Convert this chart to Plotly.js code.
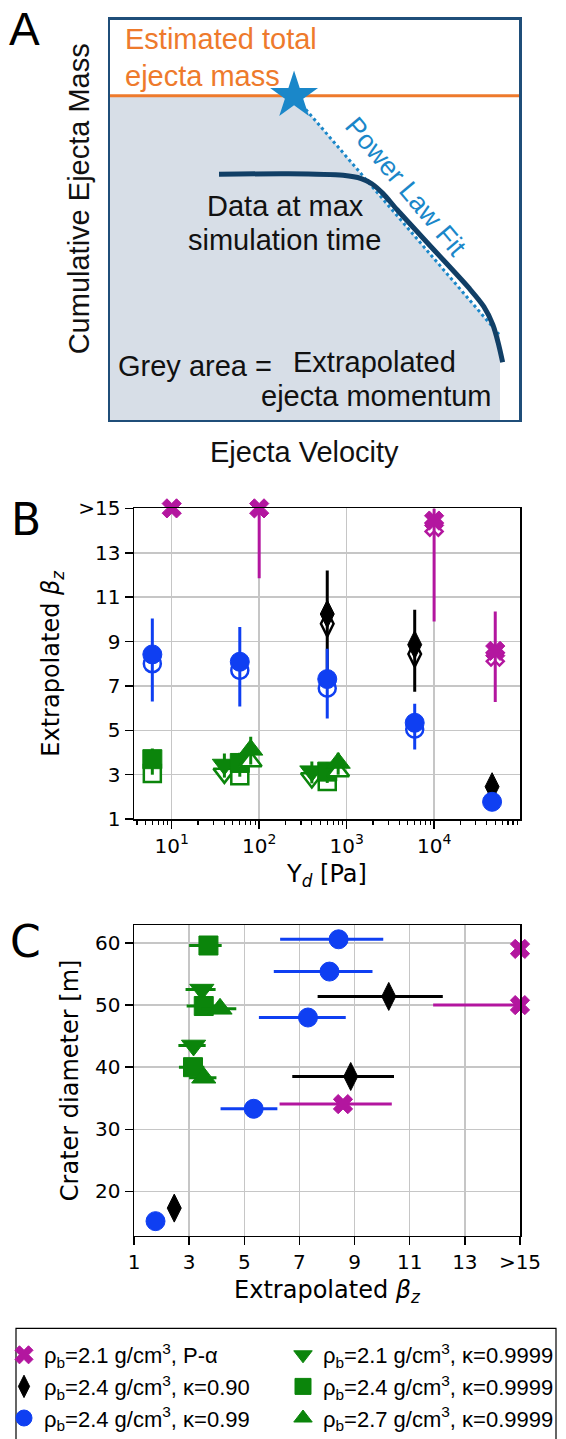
<!DOCTYPE html>
<html><head><meta charset="utf-8">
<script src="https://cdn.plot.ly/plotly-3.0.1.min.js"></script>
<style>html,body{margin:0;padding:0;background:#fff;width:566px;height:1439px;overflow:hidden}
#chart{width:566px;height:1439px;overflow:hidden;position:relative}</style>
</head><body>
<div id="chart"></div>
<script>
// ---------------- Panel A : schematic (arbitrary units 0-100) ----------------
const schemCurveX = [26.65, 43.7, 57.0, 61.4, 64.0, 66.7, 70.2, 79.0, 87.8, 91.4, 93.6, 94.9, 96.0];
const schemCurveY = [61.35, 61.5, 61.1, 60.3, 59.0, 56.6, 52.5, 42.7, 32.9, 28.3, 23.8, 19.3, 14.4];
const fitX = [45.0, 95.1];
const fitY = [81.0, 21.4];
const totalMassX = [0, 100];
const totalMassY = [81.0, 81.0];
const starX = [45.0];
const starY = [81.0];
const greyX = [0, 45.0, 95.1, 95.35, 95.35, 0];
const greyY = [81.0, 81.0, 21.4, 21.4, 0, 0];

// ---------------- Panels B and C : data ----------------
// pink : rho_b=2.1, P-alpha
const ydPink = [10, 100, 10000, 50000];
const betaPink = [15, 15, 14.45, 8.58];
const betaPinkPlus = [0, 0, 0.55, 1.77];
const betaPinkMinus = [0, 3.15, 4.55, 2.3];
const craterPink = [59.05, 50.0, null, 34.05];
const ydPinkOpen = [10000, 50000];
const betaPinkOpen = [14.15, 8.3];

// black : rho_b=2.4, kappa=0.90
const ydBlack = [600, 6000, 46000];
const betaBlack = [10.24, 8.86, 2.46];
const betaBlackPlus = [1.96, 1.57, 0];
const betaBlackMinus = [2.58, 2.12, 0];
const craterBlack = [51.4, 38.5, 17.3];
const ydBlackOpen = [600, 6000];
const betaBlackOpen = [9.8, 8.44];

// blue : rho_b=2.4, kappa=0.99
const ydBlue = [6, 60, 600, 6000, 46000];
const betaBlue = [8.42, 8.09, 7.31, 5.34, 1.78];
const betaBluePlus = [1.62, 1.56, 1.37, 0.86, 0];
const betaBlueMinus = [2.12, 2.02, 1.78, 1.2, 0];
const craterBlue = [60.6, 55.4, 48.0, 33.3, 15.2];
const ydBlueOpen = [6, 60, 600, 6000];
const betaBlueOpen = [8.0, 7.7, 6.9, 5.05];

// green down triangle : rho_b=2.1, kappa=0.9999
const ydDown = [40, 400];
const betaDown = [3.46, 3.16];
const betaDownPlus = [0.5, 0.44];
const betaDownMinus = [0.59, 0.55];
const craterDown = [52.5, 43.5];
const betaDownOpen = [3.06, 2.85];

// green square : rho_b=2.4, kappa=0.9999
const ydSquare = [6, 60, 600];
const betaSquare = [3.70, 3.53, 3.14];
const betaSquarePlus = [0.48, 0.46, 0.41];
const betaSquareMinus = [0.70, 0.62, 0.51];
const craterSquare = [59.6, 49.85, 40.0];
const betaSquareOpen = [3.06, 2.95, 2.7];

// green up triangle : rho_b=2.7, kappa=0.9999
const ydUp = [80, 800];
const betaUp = [4.12, 3.53];
const betaUpPlus = [0.59, 0.46];
const betaUpMinus = [0.66, 0.53];
const craterUp = [49.4, 38.3];
const betaUpOpen = [3.6, 3.15];

// ticks
const betaTickVals = [1, 3, 5, 7, 9, 11, 13, 15];
const betaTickText = ['1', '3', '5', '7', '9', '11', '13', '>15'];
const ydTickVals = [10, 100, 1000, 10000];
const ydTickText = ['10<sup>1</sup>', '10<sup>2</sup>', '10<sup>3</sup>', '10<sup>4</sup>'];
const craterTickVals = [20, 30, 40, 50, 60];

const legendNames = {
  pink: 'ρ<sub>b</sub>=2.1 g/cm<sup>3</sup>, P-α',
  black: 'ρ<sub>b</sub>=2.4 g/cm<sup>3</sup>, κ=0.90',
  blue: 'ρ<sub>b</sub>=2.4 g/cm<sup>3</sup>, κ=0.99',
  down: 'ρ<sub>b</sub>=2.1 g/cm<sup>3</sup>, κ=0.9999',
  square: 'ρ<sub>b</sub>=2.4 g/cm<sup>3</sup>, κ=0.9999',
  up: 'ρ<sub>b</sub>=2.7 g/cm<sup>3</sup>, κ=0.9999'
};

// ---------------- styling ----------------
const W = 566, H = 1439;
const px = v => v / W;
const py = v => 1 - v / H;
const C_PINK = '#b3169f', C_BLACK = '#000000', C_BLUE = '#0f3ff2', C_GREEN = '#0b850b';
const C_ORANGE = '#ee7a2c', C_STAR = '#1a87c9', C_NAVY = '#113f66', C_FRAME = '#1f4e79';
const mpl = 'DejaVu Sans';
const office = 'Liberation Sans';

function errY(plus, minus, color) {
  return {type: 'data', symmetric: false, array: plus, arrayminus: minus, color: color, thickness: 3, width: 0};
}
function errX(plus, minus, color) {
  return {type: 'data', symmetric: false, array: plus, arrayminus: minus, color: color, thickness: 3, width: 0};
}

const series = [
  {key: 'down', rank: 2, color: C_GREEN, symbol: 'triangle-down', size: 21, yd: ydDown, beta: betaDown, plus: betaDownPlus, minus: betaDownMinus, crater: craterDown, openYd: ydDown, openBeta: betaDownOpen},
  {key: 'square', rank: 4, color: C_GREEN, symbol: 'square', size: 19, yd: ydSquare, beta: betaSquare, plus: betaSquarePlus, minus: betaSquareMinus, crater: craterSquare, openYd: ydSquare, openBeta: betaSquareOpen},
  {key: 'up', rank: 6, color: C_GREEN, symbol: 'triangle-up', size: 21, yd: ydUp, beta: betaUp, plus: betaUpPlus, minus: betaUpMinus, crater: craterUp, openYd: ydUp, openBeta: betaUpOpen},
  {key: 'pink', rank: 1, color: C_PINK, symbol: 'x', size: 17, yd: ydPink, beta: betaPink, plus: betaPinkPlus, minus: betaPinkMinus, crater: craterPink, openYd: ydPinkOpen, openBeta: betaPinkOpen},
  {key: 'black', rank: 3, color: C_BLACK, symbol: 'diamond-tall', size: 20, yd: ydBlack, beta: betaBlack, plus: betaBlackPlus, minus: betaBlackMinus, crater: craterBlack, openYd: ydBlackOpen, openBeta: betaBlackOpen},
  {key: 'blue', rank: 5, color: C_BLUE, symbol: 'circle', size: 19, yd: ydBlue, beta: betaBlue, plus: betaBluePlus, minus: betaBlueMinus, crater: craterBlue, openYd: ydBlueOpen, openBeta: betaBlueOpen}
];

const traces = [];
// Panel A
traces.push({x: greyX, y: greyY, xaxis: 'x3', yaxis: 'y3', type: 'scatter', mode: 'lines', fill: 'toself', fillcolor: '#d7dee7', line: {width: 0}, showlegend: false, hoverinfo: 'skip'});
traces.push({x: totalMassX, y: totalMassY, xaxis: 'x3', yaxis: 'y3', type: 'scatter', mode: 'lines', line: {color: C_ORANGE, width: 3}, showlegend: false});
traces.push({x: fitX, y: fitY, xaxis: 'x3', yaxis: 'y3', type: 'scatter', mode: 'lines', line: {color: C_STAR, width: 3, dash: 'dot'}, showlegend: false});
traces.push({x: schemCurveX, y: schemCurveY, xaxis: 'x3', yaxis: 'y3', type: 'scatter', mode: 'lines', line: {color: C_NAVY, width: 5, shape: 'spline', smoothing: 0.8}, showlegend: false});
traces.push({x: starX, y: starY, xaxis: 'x3', yaxis: 'y3', type: 'scatter', mode: 'markers', marker: {symbol: 'star', size: 36, color: C_STAR}, showlegend: false, cliponaxis: false});

// Panel B: open markers then filled markers
series.forEach(s => {
  traces.push({x: s.openYd, y: s.openBeta, xaxis: 'x', yaxis: 'y', type: 'scatter', mode: 'markers', cliponaxis: false, showlegend: false,
    marker: {symbol: s.symbol, size: s.size - 2, color: 'white', line: {color: s.color, width: 2.5}}});
  traces.push({x: s.yd, y: s.beta, xaxis: 'x', yaxis: 'y', type: 'scatter', mode: 'markers', cliponaxis: false,
    name: legendNames[s.key], legendrank: s.rank, showlegend: true,
    marker: {symbol: s.symbol, size: s.size, color: s.color, line: {color: s.color, width: 1}},
    error_y: errY(s.plus, s.minus, s.color)});
});
// Panel C
series.forEach(s => {
  traces.push({x: s.beta, y: s.crater, xaxis: 'x2', yaxis: 'y2', type: 'scatter', mode: 'markers', cliponaxis: false, showlegend: false,
    marker: {symbol: s.symbol, size: s.size, color: s.color, line: {color: s.color, width: 1}},
    error_x: errX(s.plus, s.minus, s.color)});
});

const tickFont = {family: mpl, size: 20, color: '#000'};
const titleFont = {family: mpl, size: 24, color: '#000'};
const gridCol = '#c6c6c6';
const axisCommon = {showline: true, linecolor: '#000', linewidth: 1.5, mirror: true, ticks: 'outside', ticklen: 8, tickwidth: 1.5, tickcolor: '#000',
  showgrid: true, gridcolor: gridCol, gridwidth: 1.5, zeroline: false, tickfont: tickFont, automargin: false, fixedrange: true};

// open legend frame (its bottom edge lies below the picture)
const frameL = px(16), frameR = px(556), frameT = py(1351), frameB = py(1480);

const layout = {
  width: W, height: H, margin: {l: 0, r: 0, t: 0, b: 0},
  paper_bgcolor: '#fff', plot_bgcolor: '#fff', showlegend: true,
  xaxis: Object.assign({}, axisCommon, {domain: [px(134), px(520)], anchor: 'y', type: 'log', range: [0.5686, 4.982],
    tickmode: 'array', tickvals: ydTickVals, ticktext: ydTickText,
    minor: {dtick: 'D1', ticks: 'outside', ticklen: 4, tickwidth: 1.2, tickcolor: '#000', showgrid: false},
    title: {text: 'Y<sub><i>d</i></sub> [Pa]', font: titleFont, standoff: 8}}),
  yaxis: Object.assign({}, axisCommon, {domain: [py(833), py(517)], anchor: 'x', range: [1, 15],
    tickmode: 'array', tickvals: betaTickVals, ticktext: betaTickText,
    title: {text: 'Extrapolated <i>β</i><sub><i>z</i></sub>', font: titleFont, standoff: 12}}),
  xaxis2: Object.assign({}, axisCommon, {domain: [px(134), px(520)], anchor: 'y2', range: [1, 15],
    tickmode: 'array', tickvals: betaTickVals, ticktext: betaTickText,
    title: {text: 'Extrapolated <i>β</i><sub><i>z</i></sub>', font: titleFont, standoff: 8}}),
  yaxis2: Object.assign({}, axisCommon, {domain: [py(1256.7), py(940.7)], anchor: 'x2', range: [12.85, 62.9],
    tickmode: 'array', tickvals: craterTickVals,
    title: {text: 'Crater diameter [m]', font: titleFont, standoff: 9}}),
  xaxis3: {domain: [px(110), px(519)], anchor: 'y3', range: [0, 100], showline: true, linecolor: C_FRAME, linewidth: 2.5, mirror: true,
    showgrid: false, zeroline: false, showticklabels: false, ticks: '', fixedrange: true},
  yaxis3: {domain: [py(427), py(20)], anchor: 'x3', range: [0, 100], showline: true, linecolor: C_FRAME, linewidth: 2.5, mirror: true,
    showgrid: false, zeroline: false, showticklabels: false, ticks: '', fixedrange: true},
  legend: {orientation: 'h', x: px(4), y: py(1357), xanchor: 'left', yanchor: 'top', xref: 'paper', yref: 'paper',
    entrywidth: 234, entrywidthmode: 'pixels', bgcolor: 'rgba(0,0,0,0)', borderwidth: 0, traceorder: 'normal',
    font: {family: office, size: 22, color: '#000'}, tracegroupgap: 0, itemclick: false, itemdoubleclick: false},
  shapes: [
    {type: 'path', xref: 'paper', yref: 'paper', layer: 'below', line: {color: '#000', width: 1.2},
     path: `M ${frameL},${frameB} L ${frameL},${frameT} L ${frameR},${frameT} L ${frameR},${frameB}`}
  ],
  annotations: [
    {text: 'A', x: px(24), y: py(30), font: {family: office, size: 46, color: '#000'}},
    {text: 'B', x: px(26), y: py(528), font: {family: mpl, size: 44, color: '#000'}},
    {text: 'C', x: px(25), y: py(957), font: {family: mpl, size: 44, color: '#000'}},
    {text: 'Estimated total', x: px(123), y: py(40), xanchor: 'left', font: {family: office, size: 29, color: C_ORANGE}},
    {text: 'ejecta mass', x: px(123), y: py(77), xanchor: 'left', font: {family: office, size: 29, color: C_ORANGE}},
    {text: 'Power Law Fit', x: px(406), y: py(190), textangle: 50, font: {family: office, size: 27, color: C_STAR}},
    {text: 'Data at max', x: px(285), y: py(209), font: {family: office, size: 29, color: '#111'}},
    {text: 'simulation time', x: px(284.5), y: py(244), font: {family: office, size: 29, color: '#111'}},
    {text: 'Grey area =', x: px(115.5), y: py(372), xanchor: 'left', font: {family: office, size: 29, color: '#111'}},
    {text: 'Extrapolated', x: px(290.6), y: py(368), xanchor: 'left', font: {family: office, size: 29, color: '#111'}},
    {text: 'ejecta momentum', x: px(494), y: py(403), xanchor: 'right', font: {family: office, size: 29, color: '#111'}},
    {text: 'Cumulative Ejecta Mass', x: px(78.7), y: py(202), textangle: -90, font: {family: office, size: 29, color: '#111'}},
    {text: 'Ejecta Velocity', x: px(304), y: py(460), font: {family: office, size: 29, color: '#111'}}
  ].map(a => Object.assign({xref: 'paper', yref: 'paper', showarrow: false, xanchor: 'center', yanchor: 'middle'}, a))
};

Plotly.newPlot('chart', traces, layout, {staticPlot: true, displayModeBar: false});
</script>
</body></html>
